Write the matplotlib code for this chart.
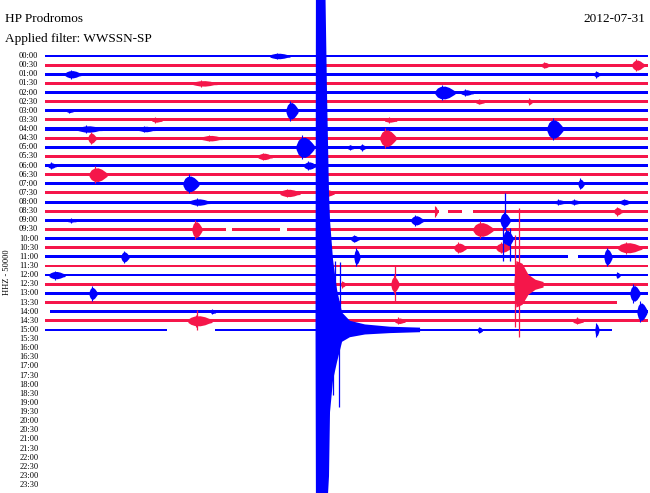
import matplotlib
matplotlib.use("Agg")
import matplotlib.pyplot as plt

STATION = "HP Prodromos"
FILTER_TEXT = "Applied filter: WWSSN-SP"
DATE_TEXT = "2012-07-31"
CHANNEL_TEXT = "HHZ - 50000"

ROW_LABELS = [f"{h:02d}:{m:02d}" for h in range(24) for m in (0, 30)]
N_DATA_ROWS = 31  # 00:00 .. 15:00 have data
ROW_MINUTES = 30

BLUE = "#0000ff"
RED = "#f5164a"

# background noise half-width of each trace (row units)
ROW_NOISE = [0.13, 0.16, 0.15, 0.14, 0.16, 0.16, 0.14, 0.16, 0.17, 0.16,
             0.16, 0.17, 0.15, 0.17, 0.16, 0.17, 0.16, 0.17, 0.16, 0.16,
             0.17, 0.16, 0.15, 0.16, 0.15, 0.14, 0.16, 0.16, 0.15, 0.18,
             0.15]

# trace extents that are not the full 0-30 min: row -> (start, end)
TRACE_LIMITS = {27: (0.0, 28.46), 28: (0.25, 30.0), 30: (0.0, 28.21)}

# data gaps: (row, from minute, to minute)
GAPS = [
    (17, 19.60, 20.05),
    (17, 20.75, 21.29),
    (19, 11.69, 12.04),
    (19, 9.0, 9.3),
    (22, 26.02, 26.52),
    (30, 6.07, 8.46),
]

# wave trains: (row, centre minute, amplitude in rows, duration in minutes)
EVENTS = [
    (0, 11.69, 0.3, 1.0), (1, 24.9, 0.3, 0.4), (1, 29.5, 0.55, 0.6),
    (2, 1.39, 0.4, 0.8), (2, 27.46, 0.3, 0.3),
    (3, 7.96, 0.3, 1.2), (4, 19.9, 0.7, 1.0), (4, 21.0, 0.3, 0.6),
    (5, 21.64, 0.25, 0.4), (5, 24.13, 0.3, 0.2),
    (6, 1.24, 0.2, 0.3), (6, 12.29, 0.9, 0.6),
    (7, 5.57, 0.25, 0.5), (7, 17.2, 0.25, 0.6),
    (8, 2.24, 0.35, 1.2), (8, 5.07, 0.3, 0.8), (8, 25.37, 1.0, 0.8),
    (9, 2.34, 0.55, 0.4), (9, 8.31, 0.3, 1.0), (9, 17.06, 0.9, 0.8),
    (10, 12.94, 1.1, 0.9), (10, 15.2, 0.25, 0.3), (10, 15.8, 0.3, 0.3),
    (11, 10.95, 0.35, 0.7),
    (12, 0.35, 0.3, 0.4), (12, 13.18, 0.4, 0.6),
    (13, 2.64, 0.75, 0.9), (14, 7.26, 0.85, 0.8), (14, 26.67, 0.5, 0.3),
    (15, 12.19, 0.4, 1.0), (15, 14.18, 0.3, 0.4),
    (16, 7.71, 0.35, 1.0), (16, 25.62, 0.25, 0.5), (16, 26.37, 0.25, 0.5),
    (16, 28.86, 0.3, 0.5),
    (17, 19.45, 0.5, 0.15), (17, 28.51, 0.4, 0.4),
    (18, 1.34, 0.2, 0.4), (18, 18.51, 0.5, 0.6), (18, 22.89, 0.8, 0.5),
    (19, 7.56, 0.85, 0.5), (19, 21.79, 0.75, 1.0),
    (20, 15.42, 0.35, 0.4), (20, 23.03, 0.9, 0.5),
    (21, 20.65, 0.5, 0.6), (21, 22.79, 0.5, 0.7), (21, 29.1, 0.55, 1.2),
    (22, 3.98, 0.55, 0.4), (22, 15.52, 0.8, 0.3), (22, 28.01, 0.85, 0.4),
    (24, 0.6, 0.4, 0.8), (24, 28.51, 0.3, 0.2),
    (25, 14.83, 0.3, 0.25), (25, 17.41, 0.8, 0.4),
    (26, 2.39, 0.65, 0.4), (26, 29.35, 0.85, 0.5),
    (28, 8.36, 0.2, 0.25), (28, 29.7, 0.95, 0.5),
    (29, 7.71, 0.55, 1.2), (29, 17.66, 0.3, 0.5), (29, 26.52, 0.3, 0.5),
    (30, 21.64, 0.3, 0.25), (30, 27.46, 0.65, 0.2),
]

# single spikes: (row, minute, up, down) in rows
SPIKES = [
    (18, 22.89, 3.0, 1.0),
    (20, 22.79, 1.5, 2.5), (20, 23.13, 1.2, 2.5),
    (25, 17.41, 2.0, 2.0),
    (25, 23.58, 8.4, 5.8), (25, 23.38, 5.4, 4.7),
    (29, 7.56, 1.2, 1.0),
    (30, 14.43, 7.6, 0.5), (30, 14.68, 7.4, 0.5),
    (30, 14.33, 0.5, 7.1), (30, 14.63, 0.5, 8.4),
]

# large red event on the 12:30 row (row 25)
RED_EVENT_ROW = 25
RED_EVENT_MIN = [23.33, 23.43, 23.73, 24.03, 24.38, 24.78]
RED_EVENT_UP = [0.3, 2.6, 2.3, 1.1, 0.55, 0.3]
RED_EVENT_DOWN = [0.3, 2.5, 2.2, 1.1, 0.55, 0.3]

# main earthquake on the 15:00 row (row 30)
QUAKE_ROW = 30
QUAKE_MIN = [13.46, 13.48, 13.93, 14.03, 14.13, 14.18, 14.33, 14.53,
             14.78, 15.17, 15.92, 17.16, 18.66]
QUAKE_UP = [0.3, 40, 40, 26, 15, 12, 7.7, 4.4, 1.9, 1.0, 0.6, 0.35, 0.25]
QUAKE_DOWN = [0.3, 20, 20, 20, 16, 9, 5.5, 3.5, 1.3, 0.8, 0.5, 0.35, 0.25]

# spindle template for a wave train (fraction of duration, fraction of amplitude)
SHAPE_T = [-0.5, -0.38, -0.22, 0.0, 0.2, 0.36, 0.5]
SHAPE_A = [0.2, 0.7, 0.95, 1.0, 0.8, 0.5, 0.2]


def row_color(r):
    return BLUE if r % 2 == 0 else RED


def draw_traces(ax):
    for r in range(N_DATA_ROWS):
        start, end = TRACE_LIMITS.get(r, (0.0, ROW_MINUTES))
        cuts = sorted((a, b) for rr, a, b in GAPS if rr == r)
        pieces = []
        pos = start
        for a, b in cuts:
            pieces.append((pos, a))
            pos = b
        pieces.append((pos, end))
        n = ROW_NOISE[r]
        for a, b in pieces:
            ax.fill_between([a, b], [r - n, r - n], [r + n, r + n],
                            color=row_color(r), lw=0, zorder=2)

    for r, mid, amp, dur in EVENTS:
        xs = [mid + t * dur for t in SHAPE_T]
        up = [r - max(amp * f, ROW_NOISE[r]) for f in SHAPE_A]
        dn = [r + max(amp * f, ROW_NOISE[r]) for f in SHAPE_A]
        ax.fill_between(xs, up, dn, color=row_color(r), lw=0, zorder=3)
        ax.vlines(mid - 0.15 * dur, r - amp * 1.2, r + amp * 1.2,
                  color=row_color(r), lw=0.8, zorder=3)

    for r, m, up, down in SPIKES:
        ax.vlines(m, r - up, r + down, color=row_color(r), lw=0.9, zorder=3)

    r = RED_EVENT_ROW
    ax.fill_between(RED_EVENT_MIN, [r - v for v in RED_EVENT_UP],
                    [r + v for v in RED_EVENT_DOWN],
                    color=row_color(r), lw=0, zorder=3)

    r = QUAKE_ROW
    ax.fill_between(QUAKE_MIN, [r - v for v in QUAKE_UP],
                    [r + v for v in QUAKE_DOWN],
                    color=row_color(r), lw=0, zorder=5)


def main() -> None:
    fig = plt.figure(figsize=(6.5, 4.93), dpi=100)
    ax = fig.add_axes([0, 0, 1, 1])
    ax.set_xlim(-2.239, 30.1)
    ax.set_ylim(47.86, -6.13)
    ax.axis("off")

    draw_traces(ax)

    serif = "Liberation Serif"
    for r, label in enumerate(ROW_LABELS):
        ax.text(-0.33, r, label, ha="right", va="center",
                fontsize=6, family=serif)

    fig.text(5 / 650, 1 - 19 / 493, STATION, ha="left", va="center",
             fontsize=9.5, family=serif)
    fig.text(5 / 650, 1 - 39 / 493, FILTER_TEXT, ha="left", va="center",
             fontsize=9.5, family=serif)
    fig.text(645 / 650, 1 - 19 / 493, DATE_TEXT, ha="right", va="center",
             fontsize=9.5, family=serif)
    fig.text(7 / 650, 1 - 272 / 493, CHANNEL_TEXT, ha="center", va="center",
             rotation=90, fontsize=6, family=serif)

    fig.savefig("out.png", dpi=100)


if __name__ == "__main__":
    main()
